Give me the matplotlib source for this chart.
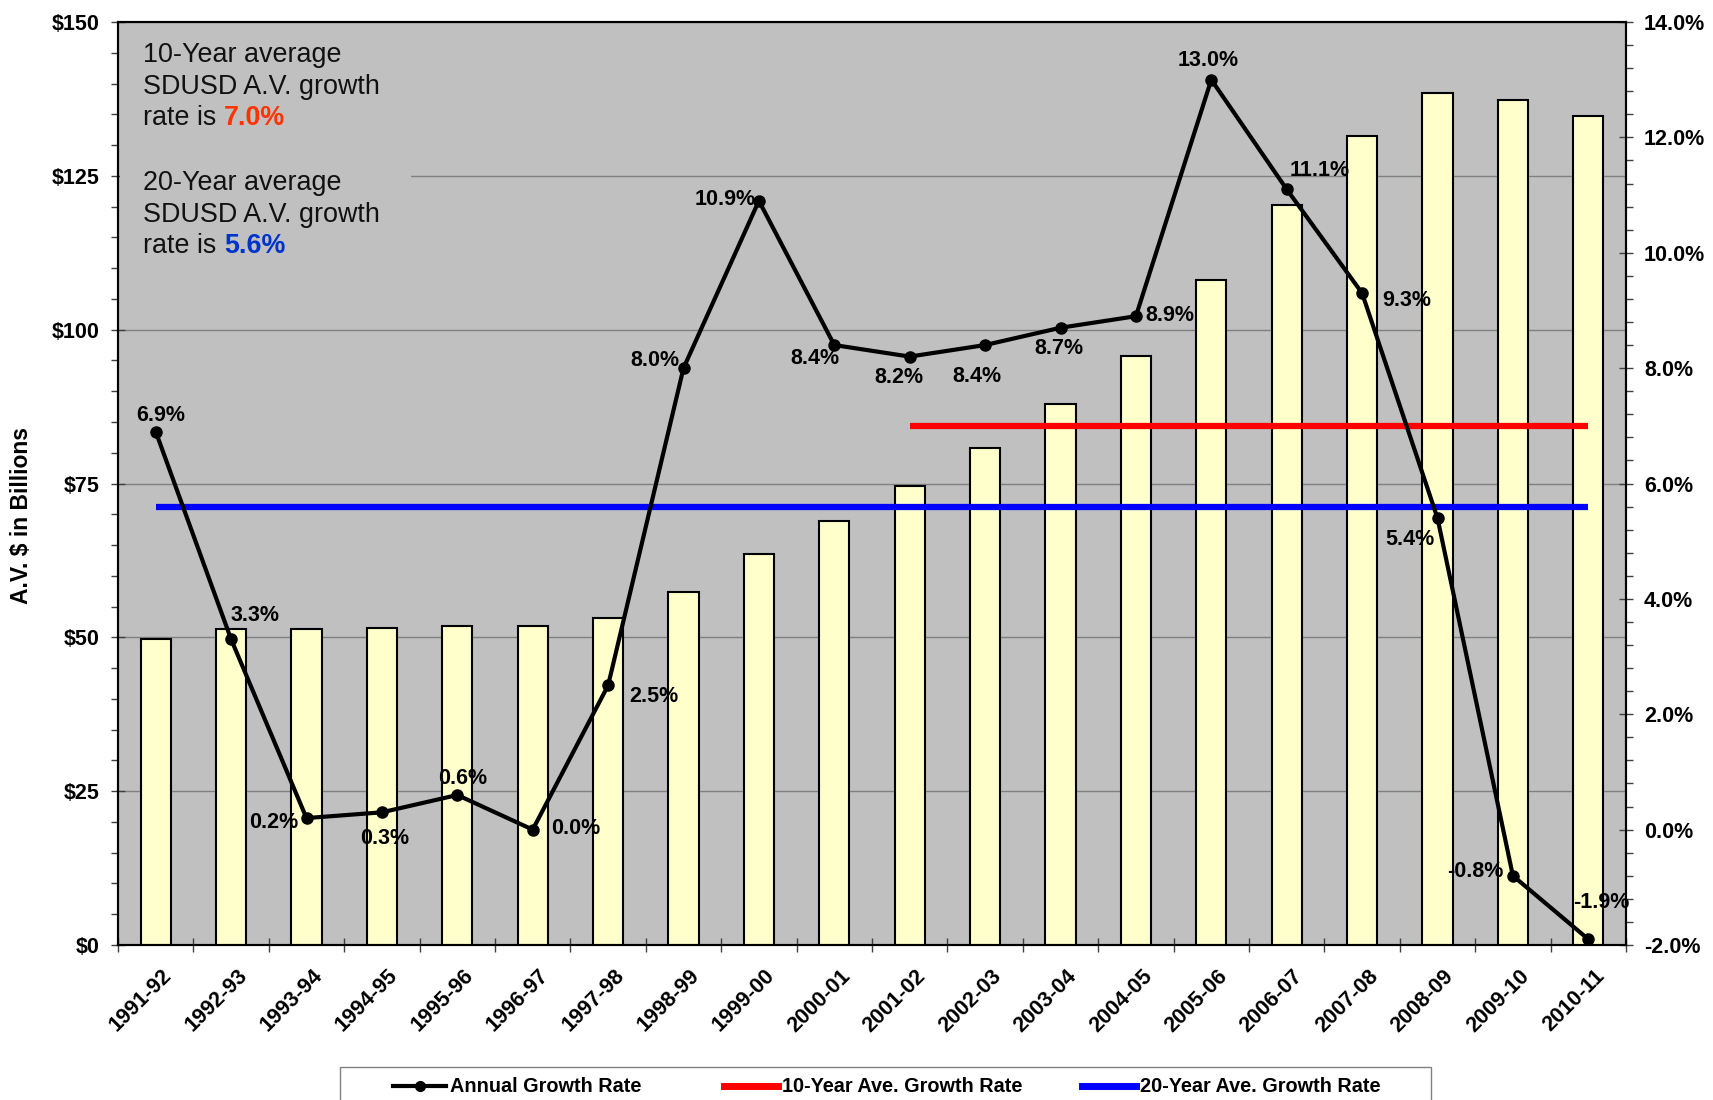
import numpy as np
import matplotlib
matplotlib.use("Agg")
import matplotlib.pyplot as plt
import matplotlib.transforms as mtransforms
from matplotlib.patches import Rectangle
from matplotlib.lines import Line2D
from matplotlib.ticker import FuncFormatter, MultipleLocator

plt.rcParams['font.family'] = ['Liberation Sans', 'DejaVu Sans']

# ---- data ----
years = ['1991-92', '1992-93', '1993-94', '1994-95', '1995-96', '1996-97', '1997-98',
         '1998-99', '1999-00', '2000-01', '2001-02', '2002-03', '2003-04', '2004-05',
         '2005-06', '2006-07', '2007-08', '2008-09', '2009-10', '2010-11']
assessed_value = [49.7, 51.3, 51.3, 51.5, 51.8, 51.8, 53.1, 57.3, 63.6, 68.9,
                  74.6, 80.8, 87.9, 95.7, 108.1, 120.2, 131.4, 138.5, 137.4, 134.7]
growth_rate = [6.9, 3.3, 0.2, 0.3, 0.6, 0.0, 2.5, 8.0, 10.9, 8.4,
               8.2, 8.4, 8.7, 8.9, 13.0, 11.1, 9.3, 5.4, -0.8, -1.9]
avg_10yr = 7.0
avg_20yr = 5.6

# label offsets (pixels) for each growth-rate data label
label_offsets = [(5, 16), (24, 24), (-33, -4), (3, -26), (5, 17), (43, 1), (46, -11),
                 (-29, 8), (-34, 1), (-19, -13), (-11, -21), (-8, -31), (-2, -21),
                 (34, 1), (-3, 19), (33, 19), (45, -7), (-28, -21), (-38, 4), (13, 37)]

W, H = 1713, 1100
fig = plt.figure(figsize=(W / 100, H / 100), dpi=100)


def fx(px):
    return px / W


def fy(py):
    return 1 - py / H


tick_size = 15.5
left, right, top, bottom = 118, 1626, 22, 945
ax = fig.add_axes([fx(left), fy(bottom), fx(right - left), (bottom - top) / H])
ax.set_facecolor('#C0C0C0')

x = np.arange(len(years)) + 0.5

# bars: assessed value
ax.bar(x, assessed_value, width=0.4, color='#FFFFCC', edgecolor='black',
       linewidth=1.5, zorder=3)
ax.set_xlim(0, len(years))
ax.set_ylim(0, 150)
ax.set_axisbelow(True)
ax.yaxis.grid(True, which='major', color='#808080', linewidth=1.0)

ax.yaxis.set_major_locator(MultipleLocator(25))
ax.yaxis.set_minor_locator(MultipleLocator(5))
ax.yaxis.set_major_formatter(FuncFormatter(lambda v, p: f'\\${v:.0f}'))
ax.tick_params(axis='y', which='major', direction='inout', length=10, width=1,
               color='#404040', labelsize=tick_size, pad=8)
ax.tick_params(axis='y', which='minor', direction='out', length=5, width=1,
               color='#404040')

ax.set_xticks(np.arange(len(years) + 1))
ax.set_xticklabels([])
ax.tick_params(axis='x', which='major', direction='inout', length=10, width=1,
               color='#404040')
ax.set_xticks(x, labels=years, minor=True)
ax.tick_params(axis='x', which='minor', length=0, pad=20, labelsize=tick_size)
shift = mtransforms.ScaledTranslation(13 / 100, 0, fig.dpi_scale_trans)
for lbl in ax.get_xticklabels(minor=True):
    lbl.set_rotation(45)
    lbl.set_ha('right')
    lbl.set_va('center')
    lbl.set_rotation_mode('anchor')
    lbl.set_fontweight('bold')
    lbl.set_transform(lbl.get_transform() + shift)
for lbl in ax.get_yticklabels():
    lbl.set_fontweight('bold')

for sp in ax.spines.values():
    sp.set_color('black')
    sp.set_linewidth(1.5)

# backdrop behind the note text
ax.add_patch(Rectangle((fx(120), fy(265)), fx(411 - 120), (265 - 30) / H,
                       transform=fig.transFigure, facecolor='#C0C0C0',
                       edgecolor='none', zorder=1))

# secondary axis: growth rates
ax2 = ax.twinx()
ax2.set_ylim(-2, 14)
ax2.yaxis.set_major_locator(MultipleLocator(2))
ax2.yaxis.set_minor_locator(MultipleLocator(0.4))
ax2.yaxis.set_major_formatter(FuncFormatter(lambda v, p: f'{v:.1f}%'))
ax2.tick_params(axis='y', which='major', direction='inout', length=10, width=1,
                color='#404040', labelsize=tick_size, pad=8)
ax2.tick_params(axis='y', which='minor', direction='out', length=5, width=1,
                color='#404040')
for lbl in ax2.get_yticklabels():
    lbl.set_fontweight('bold')
for sp in ax2.spines.values():
    sp.set_color('black')
    sp.set_linewidth(1.5)

ax2.plot([x[10], x[-1]], [avg_10yr, avg_10yr], color='#FF0000', linewidth=4.5,
         solid_capstyle='butt', zorder=3)
ax2.plot([x[0], x[-1]], [avg_20yr, avg_20yr], color='#0000FF', linewidth=4.5,
         solid_capstyle='butt', zorder=3)
ax2.plot(x, growth_rate, color='black', linewidth=3, marker='o', markersize=8,
         zorder=5)

for xi, g, off in zip(x, growth_rate, label_offsets):
    ax2.annotate(f'{g:.1f}%', xy=(xi, g), xytext=off, textcoords='offset pixels',
                 ha='center', va='center', fontsize=15.5, fontweight='bold',
                 zorder=6)

# note text
note_size = 19.4
note_x = fx(143)
for base_y, lines, pct, col in [(62, ['10-Year average', 'SDUSD A.V. growth'], avg_10yr, '#FF3300'),
                                (190, ['20-Year average', 'SDUSD A.V. growth'], avg_20yr, '#0033CC')]:
    for i, line in enumerate(lines):
        fig.text(note_x, fy(base_y + i * 31.5), line, fontsize=note_size,
                 va='baseline', ha='left', color='#111111')
    t = fig.text(note_x, fy(base_y + 2 * 31.5), 'rate is', fontsize=note_size,
                 va='baseline', ha='left', color='#111111')
    ax2.annotate(f'{pct:.1f}%', xy=(1, 0), xycoords=t, xytext=(8, 0),
                 textcoords='offset pixels', va='bottom', ha='left',
                 fontsize=note_size, fontweight='bold', color=col,
                 annotation_clip=False)

# axis title
fig.text(fx(22), fy(516), 'A.V. \\$ in Billions', rotation=90, ha='center',
         va='center', fontsize=16.5, fontweight='bold')

# legend box
fig.patches.append(Rectangle((fx(340), fy(1115)), fx(1431 - 340), (1115 - 1067) / H,
                             transform=fig.transFigure, facecolor='white',
                             edgecolor='#808080', linewidth=1, figure=fig))
leg_y = fy(1086)
fig.lines.append(Line2D([fx(393), fx(446)], [leg_y, leg_y], color='black',
                        linewidth=3, transform=fig.transFigure, figure=fig))
fig.lines.append(Line2D([fx(420)], [leg_y], color='black', marker='o',
                        markersize=7, transform=fig.transFigure, figure=fig))
fig.lines.append(Line2D([fx(724), fx(778)], [leg_y, leg_y], color='#FF0000',
                        linewidth=5, transform=fig.transFigure, figure=fig))
fig.lines.append(Line2D([fx(1082), fx(1136)], [leg_y, leg_y], color='#0000FF',
                        linewidth=5, transform=fig.transFigure, figure=fig))
for lx, txt in [(450, 'Annual Growth Rate'), (782, '10-Year Ave. Growth Rate'),
                (1140, '20-Year Ave. Growth Rate')]:
    fig.text(fx(lx), leg_y, txt, ha='left', va='center', fontsize=14.3,
             fontweight='bold')

fig.savefig('out.png', dpi=100, facecolor='white')
